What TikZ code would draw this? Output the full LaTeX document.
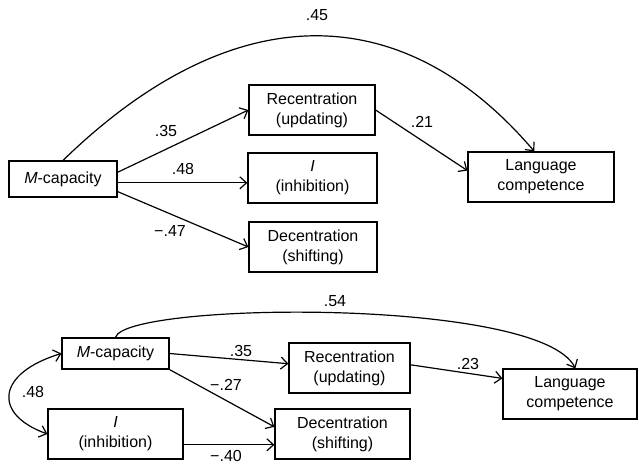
\documentclass[tikz,border=0pt]{standalone}
\usepackage{fontspec}
\setmainfont{Liberation Sans}
\usetikzlibrary{arrows.meta}

\begin{document}
\begin{tikzpicture}[x=0.75pt,y=-0.75pt,
    var/.style={draw,line width=0.9pt,inner sep=0pt,align=center,minimum height=37.5pt,font=\fontsize{12}{15}\selectfont},
    coef/.style={inner sep=0pt,font=\fontsize{12}{15}\selectfont},
    eff/.style={line width=0.9pt,-{Straight Barb[length=5pt,width=9pt]}},
    cov/.style={line width=0.9pt,{Straight Barb[length=5pt,width=9pt]}-{Straight Barb[length=5pt,width=9pt]}}]
   \useasboundingbox (0,0) rectangle (639,464);

   % top model
   \node[var,minimum width=81pt,minimum height=27pt] (mcap) at (63,179) {\textit{M}-capacity};
   \node[var,minimum width=94.5pt] (rec) at (312,110) {Recentration\\(updating)};
   \node[var,minimum width=96.75pt] (inh) at (312.5,178) {\textit{I}\\(inhibition)};
   \node[var,minimum width=96pt] (dec) at (313,247) {Decentration\\(shifting)};
   \node[var,minimum width=109.5pt] (lang) at (541,177) {Language\\competence};

   \draw[eff] (mcap.north) .. controls (230,-2) and (400,-6) .. ([xshift=-5pt]lang.north);
   \draw[eff] (mcap.7) -- (rec.west);
   \draw[eff] (mcap.-4) -- (mcap.-4 -| inh.west);
   \draw[eff] (mcap.-13.5) -- (dec.west);
   \draw[eff] (rec.east) -- (lang.175);

   \node[coef] (c45) at (317,15) {.45};
   \node[coef] (c35) at (166,131) {.35};
   \node[coef] (c48) at (183,169) {.48};
   \node[coef] (c47) at (170,231) {−.47};
   \node[coef] (c21) at (422,122) {.21};

   % bottom model
   \node[var,minimum width=80.25pt,minimum height=23.25pt] (mcap2) at (115.5,353.5) {\textit{M}-capacity};
   \node[var,minimum width=90.75pt] (rec2) at (349.5,368) {Recentration\\(updating)};
   \node[var,minimum width=100.5pt] (lang2) at (570,394) {Language\\competence};
   \node[var,minimum width=101.25pt] (inh2) at (115.5,434) {\textit{I}\\(inhibition)};
   \node[var,minimum width=101.25pt] (dec2) at (342.5,434) {Decentration\\(shifting)};

   \draw[eff] (mcap2.north) .. controls (125,302) and (540,297) .. ([xshift=4pt]lang2.north);
   \draw[eff] (mcap2.east) -- (rec2.176);
   \draw[eff] (rec2.3) -- (lang2.167);
   \draw[eff] (mcap2.south east) -- (dec2.174);
   \draw[eff] (inh2.-9.3) -- (inh2.-9.3 -| dec2.west);
   \draw[cov] (mcap2.west) .. controls (-3,373) and (-8,414) .. (inh2.west);

   \node[coef] (d54) at (335,301) {.54};
   \node[coef] (d35) at (241,351) {.35};
   \node[coef] (d27) at (226,385) {−.27};
   \node[coef] (d23) at (468,364) {.23};
   \node[coef] (d40) at (226,456) {−.40};
   \node[coef] (d48) at (33,392) {.48};
\end{tikzpicture}
\end{document}
